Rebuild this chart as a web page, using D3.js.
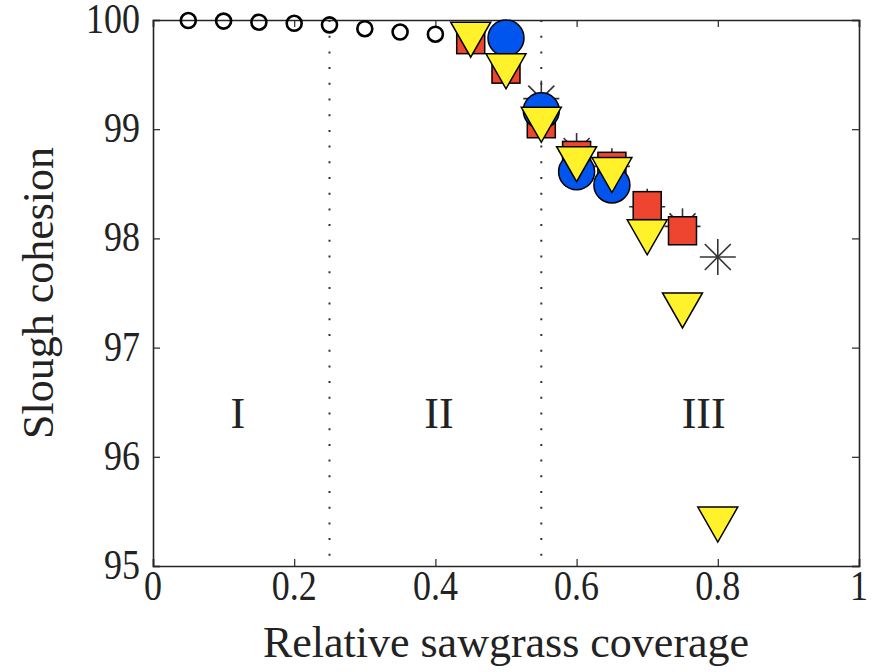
<!DOCTYPE html>
<html>
<head>
<meta charset="utf-8">
<script src="https://cdn.jsdelivr.net/npm/d3@7"></script>
<style>
  body { margin: 0; background: #fff; }
  text { font-family: "Liberation Serif", "Times New Roman", serif; fill: #222; }
</style>
</head>
<body>
<div id="chart"></div>
<script>
// data
const openX = [0.05, 0.1, 0.15, 0.2, 0.25, 0.3, 0.35, 0.4];
const openY = [99.995, 99.99, 99.98, 99.97, 99.955, 99.92, 99.89, 99.87];

const starX = [0.55, 0.6, 0.65, 0.7, 0.75, 0.8];
const starY = [99.28, 98.8, 98.66, 98.29, 98.11, 97.83];

const squareX = [0.45, 0.5, 0.55, 0.6, 0.65, 0.7, 0.75];
const squareY = [99.82, 99.55, 99.05, 98.76, 98.66, 98.3, 98.07];

const blueX = [0.5, 0.55, 0.6, 0.65];
const blueY = [99.835, 99.17, 98.61, 98.49];

const triX = [0.45, 0.5, 0.55, 0.6, 0.65, 0.7, 0.75, 0.8];
const triY = [99.82, 99.53, 99.04, 98.68, 98.58, 98.01, 97.34, 95.38];

const regionX = [0.25, 0.55];
const regionLabels = [["I", 0.12], ["II", 0.405], ["III", 0.78]];

const xTicks = [0, 0.2, 0.4, 0.6, 0.8, 1];
const yTicks = [95, 96, 97, 98, 99, 100];

function main() {
    const W = 875, H = 672;
    const left = 153, right = 859, top = 20, bottom = 566;
    const stretch = 1.2; // tick labels look a little taller than wide

    const svg = d3.select("#chart").append("svg")
        .attr("width", W)
        .attr("height", H);

    const x = d3.scaleLinear().domain([0, 1]).range([left, right]);
    const y = d3.scaleLinear().domain([95, 100]).range([bottom, top]);

    // dotted regime boundaries
    svg.selectAll(".vline")
        .data(regionX)
        .join("line")
        .attr("x1", d => x(d)).attr("x2", d => x(d))
        .attr("y1", top).attr("y2", bottom)
        .attr("stroke", "#333")
        .attr("stroke-width", 2)
        .attr("stroke-dasharray", "2,13.7");

    // axes box with ticks pointing inward on all sides
    const tk = 7;
    svg.append("g").attr("transform", `translate(0,${bottom})`)
        .call(d3.axisBottom(x).tickValues(xTicks).tickSize(-tk).tickFormat(""));
    svg.append("g").attr("transform", `translate(0,${top})`)
        .call(d3.axisTop(x).tickValues(xTicks).tickSize(-tk).tickFormat(""));
    svg.append("g").attr("transform", `translate(${left},0)`)
        .call(d3.axisLeft(y).tickValues(yTicks).tickSize(-tk).tickFormat(""));
    svg.append("g").attr("transform", `translate(${right},0)`)
        .call(d3.axisRight(y).tickValues(yTicks).tickSize(-tk).tickFormat(""));
    svg.selectAll(".domain").attr("stroke", "#262626").attr("stroke-width", 1.6);
    svg.selectAll(".tick line").attr("stroke", "#262626").attr("stroke-width", 1.2);

    // tick labels
    svg.selectAll(".xlab")
        .data(xTicks)
        .join("text")
        .attr("transform", d => `translate(${x(d)},${bottom + 34}) scale(1,${stretch})`)
        .attr("text-anchor", "middle")
        .attr("font-size", 36)
        .text(d => d3.format("")(d));

    svg.selectAll(".ylab")
        .data(yTicks)
        .join("text")
        .attr("transform", d => `translate(${left - 13},${y(d) + 13}) scale(1,${stretch})`)
        .attr("text-anchor", "end")
        .attr("font-size", 36)
        .text(d => d);

    // axis titles
    svg.append("text")
        .attr("x", (left + right) / 2)
        .attr("y", H - 15)
        .attr("text-anchor", "middle")
        .attr("font-size", 44)
        .text("Relative sawgrass coverage");

    svg.append("text")
        .attr("transform", `translate(53,${(top + bottom) / 2}) rotate(-90)`)
        .attr("text-anchor", "middle")
        .attr("font-size", 44)
        .text("Slough cohesion");

    // regime labels
    svg.selectAll(".region")
        .data(regionLabels)
        .join("text")
        .attr("x", d => x(d[1]))
        .attr("y", y(96.4) + 15)
        .attr("text-anchor", "middle")
        .attr("font-size", 44)
        .text(d => d[0]);

    const zip = (a, b) => a.map((v, i) => [v, b[i]]);

    // open circles
    svg.append("g").selectAll("circle")
        .data(zip(openX, openY))
        .join("circle")
        .attr("cx", d => x(d[0])).attr("cy", d => y(d[1]))
        .attr("r", 7.5)
        .attr("fill", "none")
        .attr("stroke", "#000")
        .attr("stroke-width", 2.6);

    // asterisks
    const star = svg.append("g").selectAll("g")
        .data(zip(starX, starY))
        .join("g")
        .attr("transform", d => `translate(${x(d[0])},${y(d[1])})`);
    const a = 18, b = 13;
    [[-a, 0, a, 0], [0, -a, 0, a], [-b, -b, b, b], [-b, b, b, -b]].forEach(s => {
        star.append("line")
            .attr("x1", s[0]).attr("y1", s[1]).attr("x2", s[2]).attr("y2", s[3])
            .attr("stroke", "#333").attr("stroke-width", 1.6);
    });

    // red squares
    const sq = 28;
    svg.append("g").selectAll("rect")
        .data(zip(squareX, squareY))
        .join("rect")
        .attr("x", d => x(d[0]) - sq / 2).attr("y", d => y(d[1]) - sq / 2)
        .attr("width", sq).attr("height", sq)
        .attr("fill", "#ee4530")
        .attr("stroke", "#000")
        .attr("stroke-width", 1.5);

    // blue circles
    svg.append("g").selectAll("circle")
        .data(zip(blueX, blueY))
        .join("circle")
        .attr("cx", d => x(d[0])).attr("cy", d => y(d[1]))
        .attr("r", 18)
        .attr("fill", "#0055ee")
        .attr("stroke", "#000")
        .attr("stroke-width", 1.5);

    // yellow down triangles
    const tw = 20, th = 17.5;
    svg.append("g").selectAll("path")
        .data(zip(triX, triY))
        .join("path")
        .attr("d", d => {
            const cx = x(d[0]), cy = y(d[1]);
            return `M${cx - tw},${cy - th}L${cx + tw},${cy - th}L${cx},${cy + th}Z`;
        })
        .attr("fill", "#fff22a")
        .attr("stroke", "#000")
        .attr("stroke-width", 1.5)
        .attr("stroke-linejoin", "miter");
}
main();
</script>
</body>
</html>
